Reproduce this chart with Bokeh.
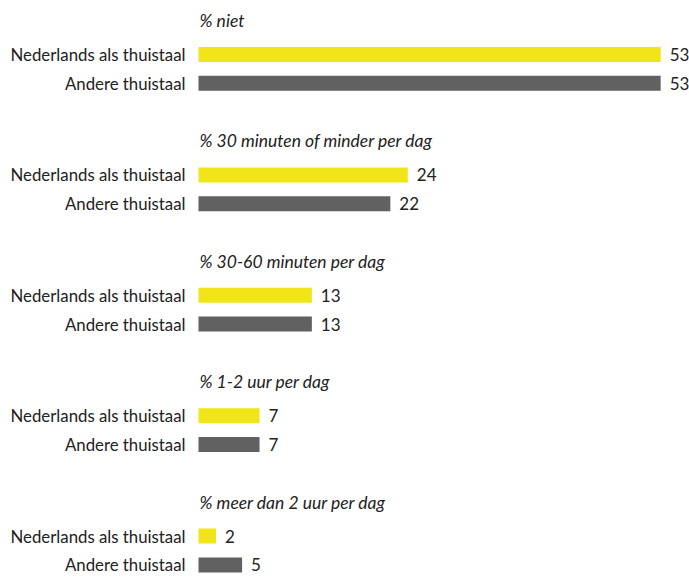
from bokeh.plotting import figure
from bokeh.models import ColumnDataSource, Range1d
from bokeh.core.properties import value
from bokeh.embed import file_html
from bokeh.resources import INLINE

titles = ["% niet", "% 30 minuten of minder per dag", "% 30-60 minuten per dag",
          "% 1-2 uur per dag", "% meer dan 2 uur per dag"]
series_names = ["Nederlands als thuistaal", "Andere thuistaal"]
nederlands = [53, 24, 13, 7, 2]
andere = [53, 22, 13, 7, 5]
colors = ["#F0E518", "#616161"]

W, H = 689, 578
px_per_unit = 8.72
x0_px = 198
group_step = 120.4
first_center = 54
pair_gap = 28.8
bar_h = 15

p = figure(width=W, height=H, output_backend="svg", toolbar_location=None,
           x_range=Range1d(-x0_px / px_per_unit, (W - x0_px) / px_per_unit),
           y_range=Range1d(H, 0), min_border=0)
p.axis.visible = False
p.grid.visible = False
p.outline_line_color = None

font = value("Lato")
for i, t in enumerate(titles):
    yc = first_center + group_step * i
    ys = [yc, yc + pair_gap]
    vals = [nederlands[i], andere[i]]
    src = ColumnDataSource(dict(y=ys, v=vals, c=colors, name=series_names,
                                lbl=[str(v) for v in vals]))
    p.hbar(y="y", left=0, right="v", height=bar_h, fill_color="c", line_color=None, source=src)
    p.text(x=0, y="y", text="name", source=src, text_align="right", text_baseline="middle",
           x_offset=-13, text_font=font, text_font_size="16.8px", text_color="#222222")
    p.text(x="v", y="y", text="lbl", source=src, text_align="left", text_baseline="middle",
           x_offset=9, text_font=font, text_font_size="17px", text_color="#222222")
    p.text(x=[0], y=[yc - 34], text=[t], text_align="left", text_baseline="middle",
           x_offset=1, text_font=font, text_font_size="17.5px", text_font_style="italic",
           text_color="#222222")

open("out.html", "w").write(file_html(p, INLINE))
